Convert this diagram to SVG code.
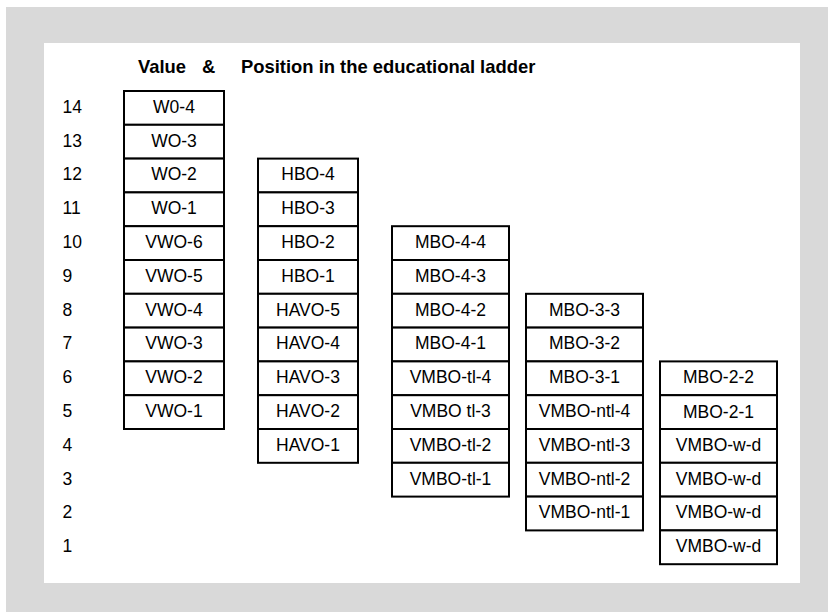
<svg xmlns="http://www.w3.org/2000/svg" width="828" height="612" viewBox="0 0 828 612">
  <style>
    .cell rect { fill: #ffffff; stroke: #000000; stroke-width: 2; }
    .cell text { font-family: "Liberation Sans", Arial, sans-serif; font-size: 17.5px; fill: #000000; text-anchor: middle; }
    .num { font-family: "Liberation Sans", Arial, sans-serif; font-size: 17.5px; fill: #000000; }
    .title { font-family: "Liberation Sans", Arial, sans-serif; font-size: 18.4px; font-weight: bold; fill: #000000; }
  </style>
  <!-- frame -->
  <rect x="0" y="0" width="828" height="612" fill="#ffffff"/>
  <rect x="6" y="7" width="822" height="605" fill="#d9d9d9"/>
  <rect x="44" y="43" width="756" height="540" fill="#ffffff"/>

  <!-- heading -->
  <g id="heading">
    <text class="title" x="138" y="73.3">Value</text>
    <text class="title" x="202" y="73.3">&amp;</text>
    <text class="title" x="241" y="73.3">Position in the educational ladder</text>
  </g>

  <!-- value scale (row top = 91 + (14 - v) * 33.8) -->
  <g id="scale">
    <text class="num" x="62.5" y="112.7">14</text>
    <text class="num" x="62.5" y="146.5">13</text>
    <text class="num" x="62.5" y="180.3">12</text>
    <text class="num" x="62.5" y="214.1">11</text>
    <text class="num" x="62.5" y="247.9">10</text>
    <text class="num" x="62.5" y="281.7">9</text>
    <text class="num" x="62.5" y="315.5">8</text>
    <text class="num" x="62.5" y="349.3">7</text>
    <text class="num" x="62.5" y="383.1">6</text>
    <text class="num" x="62.5" y="416.9">5</text>
    <text class="num" x="62.5" y="450.7">4</text>
    <text class="num" x="62.5" y="484.5">3</text>
    <text class="num" x="62.5" y="518.3">2</text>
    <text class="num" x="62.5" y="552.1">1</text>
  </g>

  <!-- column 1: WO / VWO -->
  <g id="col-wo">
    <g id="wo-4" class="cell"><rect x="124" y="91" width="100" height="33.8"/><text x="174" y="112.7">W0-4</text></g>
    <g id="wo-3" class="cell"><rect x="124" y="124.8" width="100" height="33.8"/><text x="174" y="146.5">WO-3</text></g>
    <g id="wo-2" class="cell"><rect x="124" y="158.6" width="100" height="33.8"/><text x="174" y="180.3">WO-2</text></g>
    <g id="wo-1" class="cell"><rect x="124" y="192.4" width="100" height="33.8"/><text x="174" y="214.1">WO-1</text></g>
    <g id="vwo-6" class="cell"><rect x="124" y="226.2" width="100" height="33.8"/><text x="174" y="247.9">VWO-6</text></g>
    <g id="vwo-5" class="cell"><rect x="124" y="260" width="100" height="33.8"/><text x="174" y="281.7">VWO-5</text></g>
    <g id="vwo-4" class="cell"><rect x="124" y="293.8" width="100" height="33.8"/><text x="174" y="315.5">VWO-4</text></g>
    <g id="vwo-3" class="cell"><rect x="124" y="327.6" width="100" height="33.8"/><text x="174" y="349.3">VWO-3</text></g>
    <g id="vwo-2" class="cell"><rect x="124" y="361.4" width="100" height="33.8"/><text x="174" y="383.1">VWO-2</text></g>
    <g id="vwo-1" class="cell"><rect x="124" y="395.2" width="100" height="33.8"/><text x="174" y="416.9">VWO-1</text></g>
  </g>

  <!-- column 2: HBO / HAVO -->
  <g id="col-hbo">
    <g id="hbo-4" class="cell"><rect x="258" y="158.6" width="100" height="33.8"/><text x="308" y="180.3">HBO-4</text></g>
    <g id="hbo-3" class="cell"><rect x="258" y="192.4" width="100" height="33.8"/><text x="308" y="214.1">HBO-3</text></g>
    <g id="hbo-2" class="cell"><rect x="258" y="226.2" width="100" height="33.8"/><text x="308" y="247.9">HBO-2</text></g>
    <g id="hbo-1" class="cell"><rect x="258" y="260" width="100" height="33.8"/><text x="308" y="281.7">HBO-1</text></g>
    <g id="havo-5" class="cell"><rect x="258" y="293.8" width="100" height="33.8"/><text x="308" y="315.5">HAVO-5</text></g>
    <g id="havo-4" class="cell"><rect x="258" y="327.6" width="100" height="33.8"/><text x="308" y="349.3">HAVO-4</text></g>
    <g id="havo-3" class="cell"><rect x="258" y="361.4" width="100" height="33.8"/><text x="308" y="383.1">HAVO-3</text></g>
    <g id="havo-2" class="cell"><rect x="258" y="395.2" width="100" height="33.8"/><text x="308" y="416.9">HAVO-2</text></g>
    <g id="havo-1" class="cell"><rect x="258" y="429" width="100" height="33.8"/><text x="308" y="450.7">HAVO-1</text></g>
  </g>

  <!-- column 3: MBO-4 / VMBO-tl -->
  <g id="col-mbo4">
    <g id="mbo-4-4" class="cell"><rect x="392" y="226.2" width="117" height="33.8"/><text x="450.5" y="247.9">MBO-4-4</text></g>
    <g id="mbo-4-3" class="cell"><rect x="392" y="260" width="117" height="33.8"/><text x="450.5" y="281.7">MBO-4-3</text></g>
    <g id="mbo-4-2" class="cell"><rect x="392" y="293.8" width="117" height="33.8"/><text x="450.5" y="315.5">MBO-4-2</text></g>
    <g id="mbo-4-1" class="cell"><rect x="392" y="327.6" width="117" height="33.8"/><text x="450.5" y="349.3">MBO-4-1</text></g>
    <g id="vmbo-tl-4" class="cell"><rect x="392" y="361.4" width="117" height="33.8"/><text x="450.5" y="383.1">VMBO-tl-4</text></g>
    <g id="vmbo-tl-3" class="cell"><rect x="392" y="395.2" width="117" height="33.8"/><text x="450.5" y="416.9">VMBO tl-3</text></g>
    <g id="vmbo-tl-2" class="cell"><rect x="392" y="429" width="117" height="33.8"/><text x="450.5" y="450.7">VMBO-tl-2</text></g>
    <g id="vmbo-tl-1" class="cell"><rect x="392" y="462.8" width="117" height="33.8"/><text x="450.5" y="484.5">VMBO-tl-1</text></g>
  </g>

  <!-- column 4: MBO-3 / VMBO-ntl -->
  <g id="col-mbo3">
    <g id="mbo-3-3" class="cell"><rect x="526" y="293.8" width="117" height="33.8"/><text x="584.5" y="315.5">MBO-3-3</text></g>
    <g id="mbo-3-2" class="cell"><rect x="526" y="327.6" width="117" height="33.8"/><text x="584.5" y="349.3">MBO-3-2</text></g>
    <g id="mbo-3-1" class="cell"><rect x="526" y="361.4" width="117" height="33.8"/><text x="584.5" y="383.1">MBO-3-1</text></g>
    <g id="vmbo-ntl-4" class="cell"><rect x="526" y="395.2" width="117" height="33.8"/><text x="584.5" y="416.9">VMBO-ntl-4</text></g>
    <g id="vmbo-ntl-3" class="cell"><rect x="526" y="429" width="117" height="33.8"/><text x="584.5" y="450.7">VMBO-ntl-3</text></g>
    <g id="vmbo-ntl-2" class="cell"><rect x="526" y="462.8" width="117" height="33.8"/><text x="584.5" y="484.5">VMBO-ntl-2</text></g>
    <g id="vmbo-ntl-1" class="cell"><rect x="526" y="496.6" width="117" height="33.8"/><text x="584.5" y="518.3">VMBO-ntl-1</text></g>
  </g>

  <!-- column 5: MBO-2 / VMBO-w-d -->
  <g id="col-mbo2">
    <g id="mbo-2-2" class="cell"><rect x="660" y="361.4" width="117" height="33.8"/><text x="718.5" y="383.1">MBO-2-2</text></g>
    <g id="mbo-2-1" class="cell"><rect x="660" y="395.2" width="117" height="33.8"/><text x="718.5" y="417.9">MBO-2-1</text></g>
    <g id="vmbo-w-d-4" class="cell"><rect x="660" y="429" width="117" height="33.8"/><text x="718.5" y="450.7">VMBO-w-d</text></g>
    <g id="vmbo-w-d-3" class="cell"><rect x="660" y="462.8" width="117" height="33.8"/><text x="718.5" y="484.5">VMBO-w-d</text></g>
    <g id="vmbo-w-d-2" class="cell"><rect x="660" y="496.6" width="117" height="33.8"/><text x="718.5" y="518.3">VMBO-w-d</text></g>
    <g id="vmbo-w-d-1" class="cell"><rect x="660" y="530.4" width="117" height="33.8"/><text x="718.5" y="552.1">VMBO-w-d</text></g>
  </g>
</svg>
